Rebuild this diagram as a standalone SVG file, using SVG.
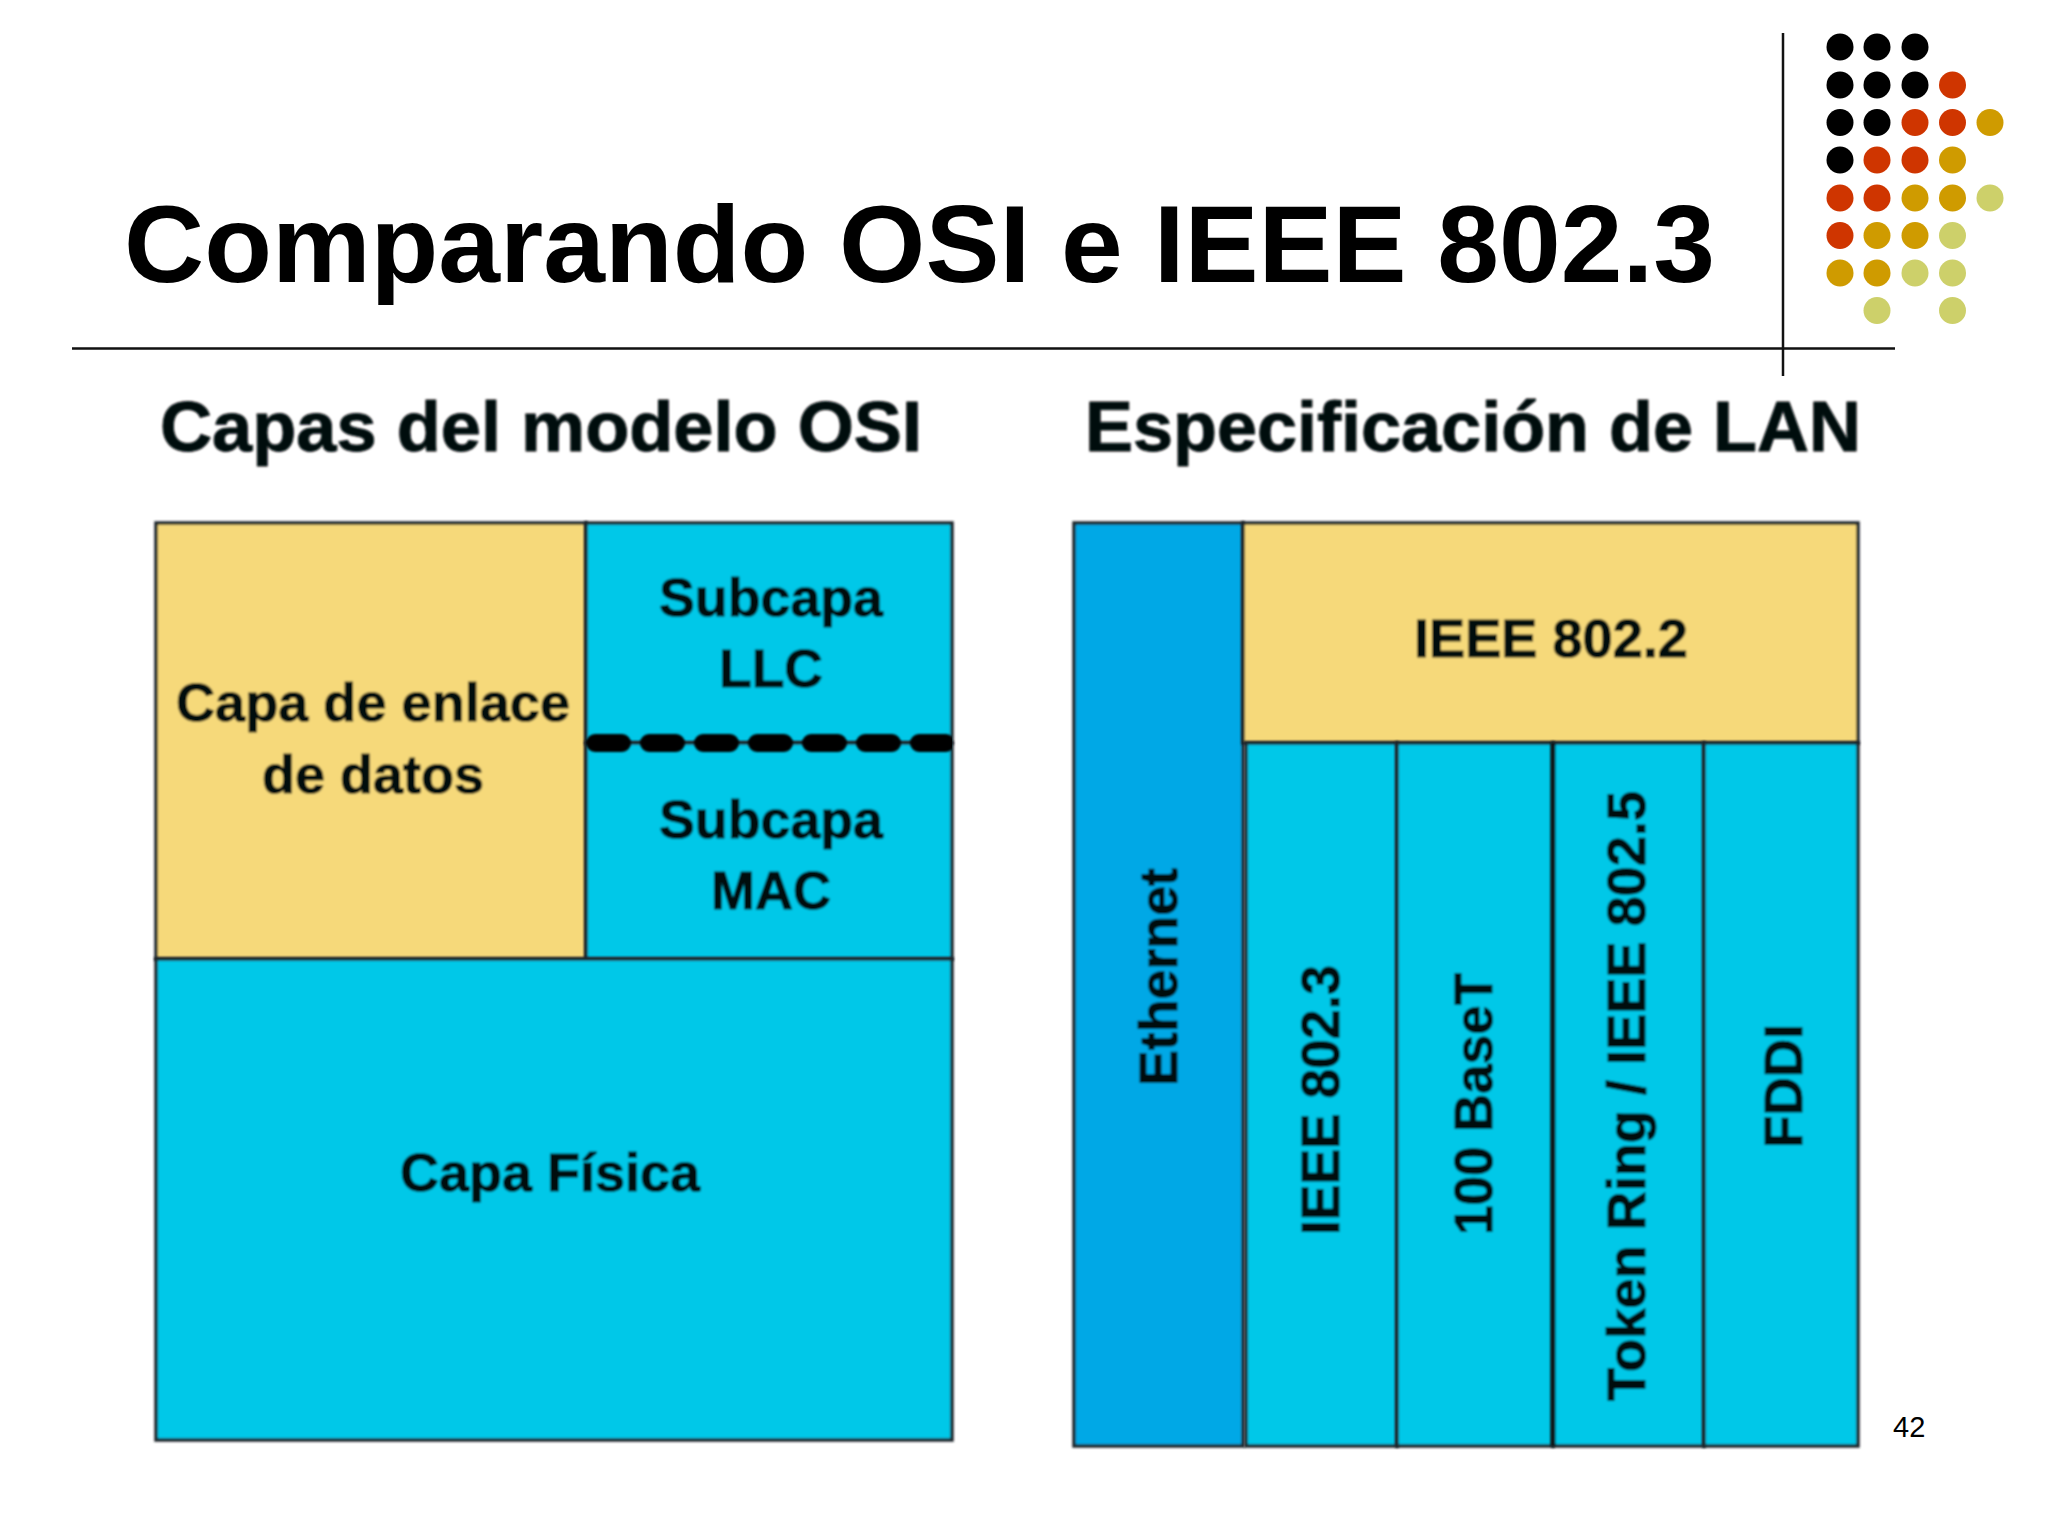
<svg xmlns="http://www.w3.org/2000/svg" width="2048" height="1536" viewBox="0 0 2048 1536">
<style>
text{font-family:"Liberation Sans",Arial,sans-serif;fill:#000}
.b{font-weight:bold;text-anchor:middle;fill:#05090b;stroke:#05090b;stroke-width:.9px}
.l{font-size:54px}
.v{font-size:54px}
.box{stroke:#1c282c;stroke-width:3.5}
.y{fill:#f6d97a}.c{fill:#00c8e8}.e{fill:#00a8e6}
.k{fill:#000}.r{fill:#cf3500}.o{fill:#cf9b00}.g{fill:#cdd06a}
.rule{stroke:#111;stroke-width:2.5;fill:none}
.soft{filter:url(#soft)}
</style>
<defs>
<filter id="soft" filterUnits="userSpaceOnUse" x="0" y="0" width="2048" height="1536"><feGaussianBlur stdDeviation="0.9"/></filter>
<clipPath id="dashclip"><rect x="586" y="730" width="366" height="26"/></clipPath>
</defs>
<rect width="2048" height="1536" fill="#fff"/>
<g id="title"><text x="124" y="282" font-size="110" font-weight="bold" textLength="1591" lengthAdjust="spacingAndGlyphs">Comparando OSI e IEEE 802.3</text></g>
<g id="rules"><path class="rule" d="M72 348.500H1895M1783 33V376"/></g>
<g id="dots">
<circle class="k" cx="1840" cy="47" r="13.5"/><circle class="k" cx="1877" cy="47" r="13.5"/><circle class="k" cx="1915" cy="47" r="13.5"/>
<circle class="k" cx="1840" cy="85" r="13.5"/><circle class="k" cx="1877" cy="85" r="13.5"/><circle class="k" cx="1915" cy="85" r="13.5"/><circle class="r" cx="1952.500" cy="85" r="13.5"/>
<circle class="k" cx="1840" cy="122.500" r="13.5"/><circle class="k" cx="1877" cy="122.500" r="13.5"/><circle class="r" cx="1915" cy="122.500" r="13.5"/><circle class="r" cx="1952.500" cy="122.500" r="13.5"/><circle class="o" cx="1990" cy="122.500" r="13.5"/>
<circle class="k" cx="1840" cy="160" r="13.5"/><circle class="r" cx="1877" cy="160" r="13.5"/><circle class="r" cx="1915" cy="160" r="13.5"/><circle class="o" cx="1952.500" cy="160" r="13.5"/>
<circle class="r" cx="1840" cy="198" r="13.5"/><circle class="r" cx="1877" cy="198" r="13.5"/><circle class="o" cx="1915" cy="198" r="13.5"/><circle class="o" cx="1952.500" cy="198" r="13.5"/><circle class="g" cx="1990" cy="198" r="13.5"/>
<circle class="r" cx="1840" cy="235.500" r="13.5"/><circle class="o" cx="1877" cy="235.500" r="13.5"/><circle class="o" cx="1915" cy="235.500" r="13.5"/><circle class="g" cx="1952.500" cy="235.500" r="13.5"/>
<circle class="o" cx="1840" cy="273" r="13.5"/><circle class="o" cx="1877" cy="273" r="13.5"/><circle class="g" cx="1915" cy="273" r="13.5"/><circle class="g" cx="1952.500" cy="273" r="13.5"/>
<circle class="g" cx="1877" cy="310.500" r="13.5"/><circle class="g" cx="1952.500" cy="310.500" r="13.5"/>
</g>
<g id="heading-osi" class="soft"><text class="b" x="541" y="451" font-size="70" textLength="762" lengthAdjust="spacingAndGlyphs">Capas del modelo OSI</text></g>
<g id="heading-lan" class="soft"><text class="b" x="1473" y="451" font-size="70" textLength="776" lengthAdjust="spacingAndGlyphs">Especificación de LAN</text></g>
<g id="enlace" class="soft"><rect class="box y" x="156" y="523" width="430" height="436"/>
<text class="b l" x="373" y="721" textLength="394" lengthAdjust="spacingAndGlyphs">Capa de enlace</text><text class="b l" x="373" y="793" textLength="222" lengthAdjust="spacingAndGlyphs">de datos</text></g>
<g id="llc" class="soft"><rect class="box c" x="586" y="523" width="366" height="220"/>
<text class="b l" x="771" y="616" textLength="224" lengthAdjust="spacingAndGlyphs">Subcapa</text><text class="b l" x="771" y="687" textLength="104" lengthAdjust="spacingAndGlyphs">LLC</text></g>
<g id="mac" class="soft"><rect class="box c" x="586" y="743" width="366" height="216"/>
<text class="b l" x="771" y="838" textLength="224" lengthAdjust="spacingAndGlyphs">Subcapa</text><text class="b l" x="771" y="909" textLength="120" lengthAdjust="spacingAndGlyphs">MAC</text></g>
<g id="fisica" class="soft"><rect class="box c" x="156" y="959" width="796" height="481"/>
<text class="b l" x="550" y="1191" textLength="300" lengthAdjust="spacingAndGlyphs">Capa Física</text></g>
<g id="connectors" clip-path="url(#dashclip)"><path class="soft" d="M595 743H960" stroke="#000" stroke-width="18" stroke-linecap="round" stroke-dasharray="27 27" fill="none"/></g>
<g id="ethernet" class="soft"><rect class="box e" x="1074" y="523" width="169" height="923"/>
<text class="b v" transform="translate(1177 977) rotate(-90)" textLength="218" lengthAdjust="spacingAndGlyphs">Ethernet</text></g>
<g id="ieee8022" class="soft"><rect class="box y" x="1243" y="523" width="615" height="220"/>
<text class="b" x="1551" y="657" font-size="54" textLength="274" lengthAdjust="spacingAndGlyphs">IEEE 802.2</text></g>
<g id="ieee8023" class="soft"><rect class="box c" x="1246" y="743" width="151" height="703"/>
<text class="b v" transform="translate(1339 1100) rotate(-90)" textLength="270" lengthAdjust="spacingAndGlyphs">IEEE 802.3</text></g>
<g id="base100" class="soft"><rect class="box c" x="1397" y="743" width="156" height="703"/>
<text class="b v" transform="translate(1492 1104) rotate(-90)" textLength="262" lengthAdjust="spacingAndGlyphs">100 BaseT</text></g>
<g id="tokenring" class="soft"><rect class="box c" x="1553" y="743" width="151" height="703"/>
<path d="M1553 743V1446" stroke="#0b1416" stroke-width="5" fill="none"/>
<text class="b v" transform="translate(1645 1096) rotate(-90)" textLength="610" lengthAdjust="spacingAndGlyphs">Token Ring / IEEE 802.5</text></g>
<g id="fddi" class="soft"><rect class="box c" x="1704" y="743" width="154" height="703"/>
<text class="b v" transform="translate(1802 1086) rotate(-90)" textLength="124" lengthAdjust="spacingAndGlyphs">FDDI</text></g>
<g id="page"><text x="1893" y="1437" font-size="29">42</text></g>
</svg>
